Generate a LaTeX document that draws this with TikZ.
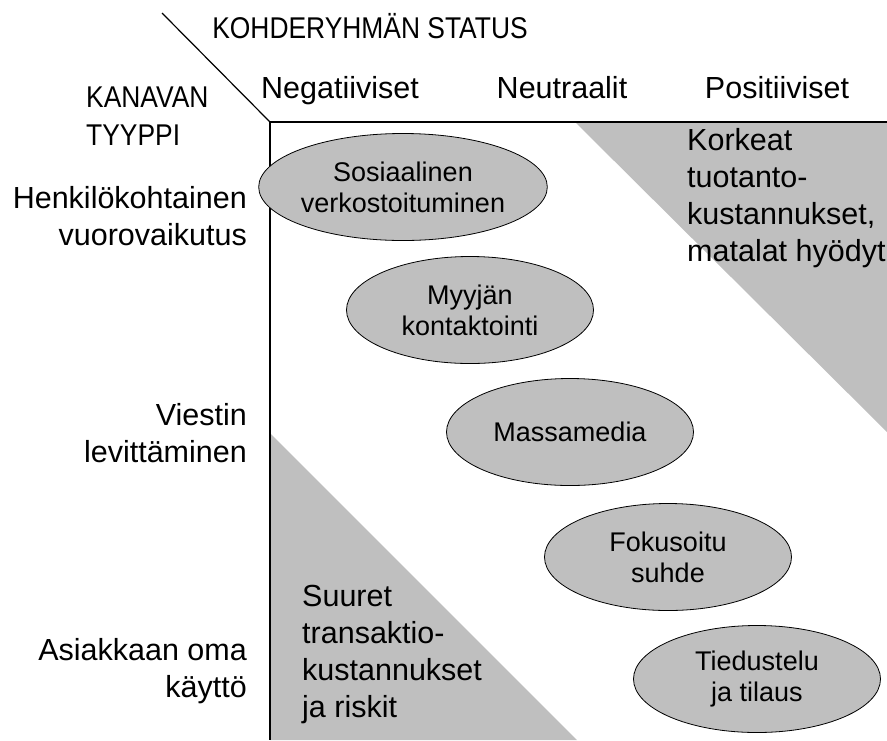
\documentclass[tikz,border=0pt]{standalone}
\usepackage{fontspec}
\setmainfont{Liberation Sans}
\newfontfamily\narrowcaps[FakeStretch=0.88]{Liberation Sans}
\usetikzlibrary{shapes.geometric}
\definecolor{zonegray}{gray}{0.75}

\tikzset{
  headtext/.style={inner sep=0pt,font=\fontsize{30.5}{37}\selectfont},
  capstext/.style={inner sep=0pt,font=\narrowcaps\fontsize{30}{38}\selectfont},
  bubble/.style={ellipse,draw,fill=zonegray,line width=0.8pt,
    minimum width=247pt,minimum height=107pt,inner sep=0pt,align=center,
    font=\fontsize{27}{31}\selectfont}
}

\begin{document}
\begin{tikzpicture}[x=1pt,y=-1pt]
  \useasboundingbox (0,0) rectangle (887,740);
  % shaded corners
  \fill[zonegray] (575,122) -- (887,122) -- (887,432) -- cycle;
  \fill[zonegray] (270,433) -- (270,740) -- (577,740) -- cycle;
  % frame
  \coordinate (corner) at (270,122);
  \coordinate (slash) at (162,13);
  \coordinate (topend) at (887,122);
  \coordinate (leftend) at (270,740);
  \draw[line width=1.2pt] (slash) -- (corner);
  \draw[line width=1.2pt] (topend) -- (corner) -- (leftend);
  % channels
  \foreach \x/\y/\t/\n in {403/187/{Sosiaalinen\\verkostoituminen}/social,
                           470/310/{Myyjän\\kontaktointi}/seller,
                           570/432/{Massamedia}/mass,
                           668/557/{Fokusoitu\\suhde}/focus,
                           757/679/{Tiedustelu\\ja tilaus}/inquiry}
    {\node[bubble] (\n) at (\x,\y) {\t};}
  % headings (base = last line)
  \node[capstext,anchor=base] (status) at (370,38) {KOHDERYHMÄN STATUS};
  \node[headtext,anchor=base] (neg) at (340,98) {Negatiiviset};
  \node[headtext,anchor=base] (neu) at (562,98) {Neutraalit};
  \node[headtext,anchor=base] (pos) at (777,98) {Positiiviset};
  \node[capstext,anchor=base west,align=left] (type) at (86,145) {KANAVAN\\TYYPPI};
  \node[headtext,anchor=base east,align=right] (personal) at (247,245) {Henkilökohtainen\\vuorovaikutus};
  \node[headtext,anchor=base east,align=right] (spread) at (247,462) {Viestin\\levittäminen};
  \node[headtext,anchor=base east,align=right] (self) at (247,697) {Asiakkaan oma\\käyttö};
  \node[headtext,anchor=base west,align=left] (risk) at (302,717) {Suuret\\transaktio-\\kustannukset\\ja riskit};
  \node[headtext,anchor=base west,align=left] (cost) at (687,261) {Korkeat\\tuotanto-\\kustannukset,\\matalat hyödyt};
\end{tikzpicture}
\end{document}
